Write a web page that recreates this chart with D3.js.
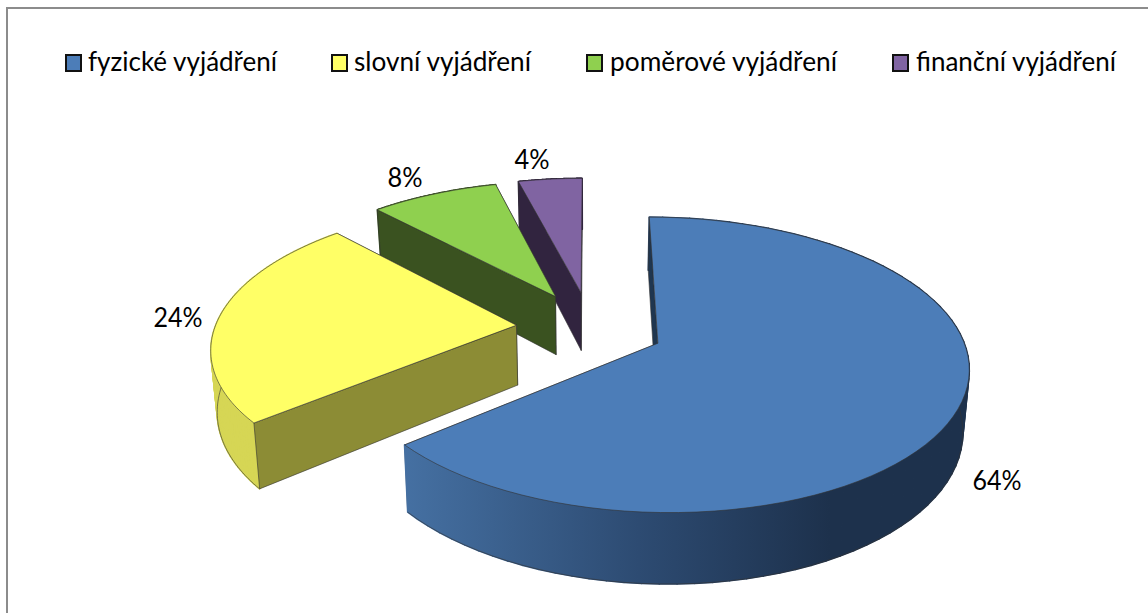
<!DOCTYPE html>
<html>
<head>
<meta charset="utf-8">
<script src="https://cdn.jsdelivr.net/npm/d3@7"></script>
<style>
  html, body { margin: 0; padding: 0; background: #fff; overflow: hidden; }
  text { font-family: Lato, Carlito, "Open Sans", sans-serif; fill: #000; }
</style>
</head>
<body>
<div id="chart"></div>
<script>
var categories = ["fyzické vyjádření", "slovní vyjádření", "poměrové vyjádření", "finanční vyjádření"];
var percents = [64, 24, 8, 4];
var topColors = ["#4c7db8", "#ffff66", "#8fd04f", "#8064a2"];
var wallColors = ["#1f3650", "#8c8c35", "#3a5220", "#31243f"];
var rimColors = ["url(#blueRim)", "#d6d655", "#3a5220", "#31243f"];

var legendSwatchX = [65, 331, 586, 892];
var legendTextX = [88, 354, 610, 916];
var legendTextW = [189, 177, 227, 200];
var labelX = [997, 178, 405, 532];
var labelY = [481, 318, 178, 160];
var labelW = [49, 49, 35, 35];

var width = 1148, height = 613;

var svg = d3.select("#chart").append("svg")
    .attr("width", width)
    .attr("height", height);

var grad = svg.append("defs").append("linearGradient")
    .attr("id", "blueRim")
    .attr("gradientUnits", "userSpaceOnUse")
    .attr("x1", 405).attr("x2", 830)
    .attr("y1", 0).attr("y2", 0);
grad.append("stop").attr("offset", "0").attr("stop-color", "#4570a2");
grad.append("stop").attr("offset", "0.55").attr("stop-color", "#2d4b72");
grad.append("stop").attr("offset", "1").attr("stop-color", "#1d314c");

// frame, cut off on the right and bottom like the screenshot
svg.append("path")
    .attr("d", "M7," + height + "V8H" + width)
    .attr("fill", "none")
    .attr("stroke", "#8c8c8c")
    .attr("stroke-width", 2);

// perspective for the tilted disc: u to the right, v towards viewer, z 0 top / 1 bottom
var cx = 590, cy = 327.5, A = 301.5, B = 140, k = 0.144, H = 60;
var explodeU = 0.245, explodeV = 0.26;

function project(u, v, z) {
  var s = 1 / (1 - k * v);
  return [cx + A * u * s * (1 - 0.017 * z), cy + B * v * s + H * s * z];
}

var color = d3.scaleOrdinal().domain(categories).range(topColors);
var wallColor = d3.scaleOrdinal().domain(categories).range(wallColors);
var rimColor = d3.scaleOrdinal().domain(categories).range(rimColors);

var slices = d3.pie().sort(null).value(function (d, i) { return percents[i]; })(categories);

var line = d3.line();

function sliceGeom(d) {
  var mid = (d.startAngle + d.endAngle) / 2;
  var u0 = Math.sin(mid) * explodeU, v0 = -Math.cos(mid) * explodeV;
  var steps = d3.range(0, 81).map(function (i) {
    return d.startAngle + (d.endAngle - d.startAngle) * i / 80;
  });
  function rim(z) {
    return steps.map(function (a) { return project(u0 + Math.sin(a), v0 - Math.cos(a), z); });
  }
  function wall(a) {
    return [project(u0, v0, 0), project(u0 + Math.sin(a), v0 - Math.cos(a), 0),
            project(u0 + Math.sin(a), v0 - Math.cos(a), 1), project(u0, v0, 1)];
  }
  var upper = rim(0), lower = rim(1);
  return {
    top: [project(u0, v0, 0)].concat(upper),
    lower: lower,
    // one quad per step so the side sweeps cleanly past the tangent on the right
    quads: d3.pairs(d3.range(steps.length)).map(function (p) {
      return [upper[p[0]], upper[p[1]], lower[p[1]], lower[p[0]]];
    }),
    startWall: wall(d.startAngle),
    endWall: wall(d.endAngle)
  };
}

// painted back to front
var pieces = svg.append("g").selectAll("g")
    .data(slices.slice().reverse())
    .enter().append("g")
    .attr("stroke", "#333")
    .attr("stroke-width", 0.6)
    .attr("stroke-linejoin", "round")
    .each(function (d) {
      var g = d3.select(this), geom = sliceGeom(d);
      g.append("path").attr("d", line(geom.endWall) + "Z").attr("fill", wallColor(d.data));
      g.selectAll("path.quad")
        .data(geom.quads)
        .enter().append("path")
        .attr("class", "quad")
        .attr("d", function (q) { return line(q) + "Z"; })
        .attr("fill", rimColor(d.data))
        .attr("stroke", rimColor(d.data))
        .attr("stroke-width", 1.6);
      g.append("path").attr("d", line(geom.lower)).attr("fill", "none");
      g.append("path").attr("d", line(geom.startWall) + "Z").attr("fill", wallColor(d.data));
      g.append("path").attr("d", line(geom.top) + "Z").attr("fill", color(d.data));
    });

// percent labels
svg.append("g").selectAll("text")
    .data(percents)
    .enter().append("text")
    .attr("x", function (d, i) { return labelX[i] - labelW[i] / 2; })
    .attr("y", function (d, i) { return labelY[i]; })
    .attr("dy", "0.36em")
    .attr("font-size", 26)
    .attr("textLength", function (d, i) { return labelW[i]; })
    .attr("lengthAdjust", "spacingAndGlyphs")
    .text(function (d) { return d + "%"; });

// legend
var legend = svg.append("g").selectAll("g")
    .data(categories)
    .enter().append("g");

legend.append("rect")
    .attr("x", function (d, i) { return legendSwatchX[i] + 1; })
    .attr("y", 55)
    .attr("width", 15)
    .attr("height", 16)
    .attr("fill", function (d) { return color(d); })
    .attr("stroke", "#111")
    .attr("stroke-width", 2);

legend.append("text")
    .attr("x", function (d, i) { return legendTextX[i]; })
    .attr("y", 71)
    .attr("font-size", 27)
    .attr("textLength", function (d, i) { return legendTextW[i]; })
    .attr("lengthAdjust", "spacingAndGlyphs")
    .text(function (d) { return d; });
</script>
</body>
</html>
